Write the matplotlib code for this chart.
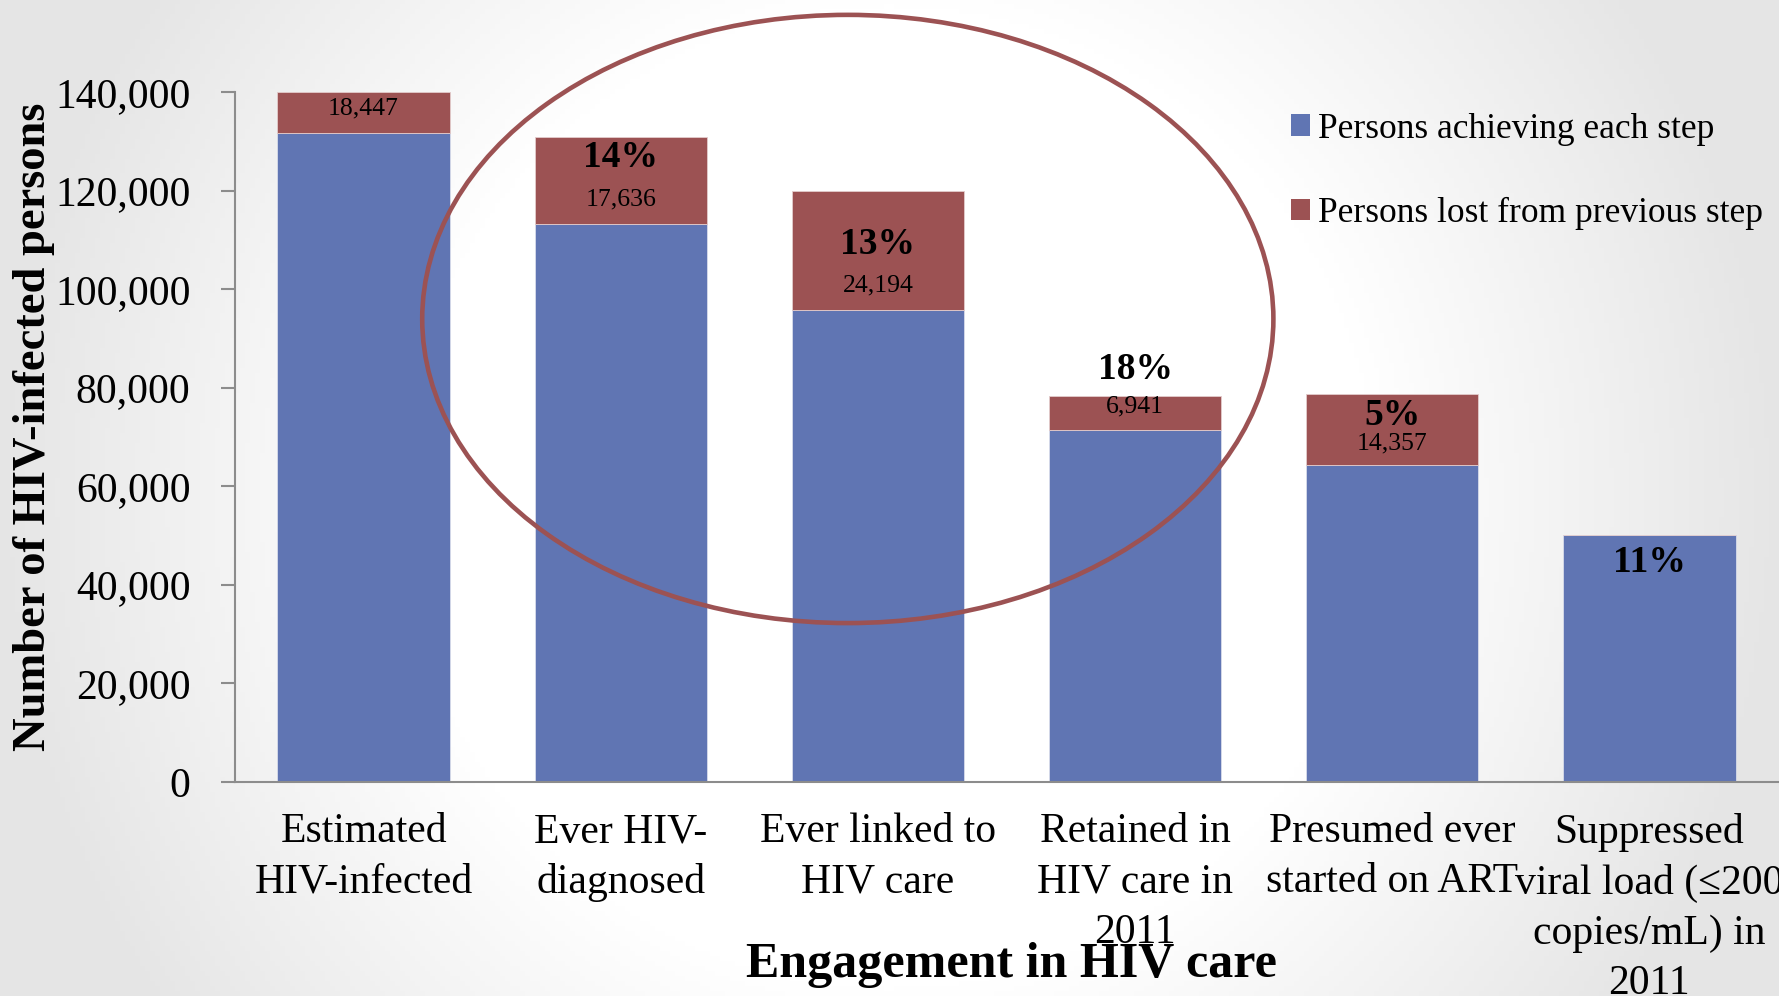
import numpy as np
import matplotlib.pyplot as plt
from matplotlib.patches import Ellipse, Patch
from matplotlib.ticker import FuncFormatter

# data
steps = ['Estimated\nHIV-infected', 'Ever HIV-\ndiagnosed', 'Ever linked to\nHIV care',
         'Retained in\nHIV care in\n2011', 'Presumed ever\nstarted on ART',
         'Suppressed\nviral load (\u2264200\ncopies/mL) in\n2011']
achieved = [131700, 113300, 95800, 71400, 64400, 50200]
lost = [8300, 17636, 24194, 6941, 14357, 0]
lost_text = ['18,447', '17,636', '24,194', '6,941', '14,357', '']
pct_text = ['', '14%', '13%', '18%', '5%', '11%']

# label placement (y in data units)
lost_y = [136700, 118300, 100800, 76200, 68600, None]
pct_y = [None, 126800, 109000, 83700, 74300, 44600]

blue = '#6075b3'
red = '#9c5253'
axis_gray = '#8c8c8c'


def main():
    plt.rcParams['font.family'] = ['Liberation Serif', 'DejaVu Serif']
    fig = plt.figure(figsize=(17.79, 9.96), dpi=100)

    # slide background: white centre fading to light gray at the edges
    bg = fig.add_axes([0, 0, 1, 1], zorder=-10)
    yy, xx = np.mgrid[0:1:200j, 0:1:356j]
    r = np.hypot((xx - 0.5) / 0.5, (yy - 0.5) / 0.9)
    v = 1 - 0.10 * np.clip((r - 0.55) / 0.45, 0, 1)
    bg.imshow(np.dstack([v, v, v]), aspect='auto', extent=[0, 1, 0, 1])
    bg.axis('off')

    ax = fig.add_axes([0.1321, 0.2149, 0.8673, 0.6927])
    ax.set_facecolor('none')
    x = np.arange(len(steps))
    ax.bar(x, achieved, width=0.67, color=blue, edgecolor='#d8dcea', lw=0.6,
           label='Persons achieving each step')
    ax.bar(x, lost, bottom=achieved, width=0.67, color=red, edgecolor='#e3cccc', lw=0.6,
           label='Persons lost from previous step')

    for i in range(len(steps)):
        if lost_text[i]:
            ax.text(x[i], lost_y[i], lost_text[i], ha='center', va='center', fontsize=18.5)
        if pct_text[i]:
            ax.text(x[i], pct_y[i], pct_text[i], ha='center', va='center',
                    fontsize=27, fontweight='bold')

    ell = Ellipse((1.883, 93950), 3.31, 123420, fill=False, ec=red, lw=3.3, clip_on=False)
    ax.add_patch(ell)

    ax.set_xlim(-0.5, 5.5)
    ax.set_ylim(0, 140000)
    ax.set_yticks(range(0, 140001, 20000))
    ax.yaxis.set_major_formatter(FuncFormatter(lambda v, p: f'{int(v):,}'))
    ax.set_xticks(x)
    ax.set_xticklabels(steps, fontsize=30, linespacing=1.40)
    ax.tick_params(axis='y', labelsize=30, length=10, width=1.5, color=axis_gray, pad=22)
    ax.tick_params(axis='x', length=0, pad=22)
    for s in ['top', 'right']:
        ax.spines[s].set_visible(False)
    for s in ['left', 'bottom']:
        ax.spines[s].set_color(axis_gray)
        ax.spines[s].set_linewidth(1.5)

    ax.set_ylabel('Number of HIV-infected persons', fontsize=33.5, fontweight='bold')
    ax.yaxis.set_label_coords(-0.1167, 0.515)
    fig.text(1011 / 1779, 1 - 965 / 996, 'Engagement in HIV care', ha='center', va='center',
             fontsize=36, fontweight='bold')

    handles = [Patch(fc=blue), Patch(fc=red)]
    ax.legend(handles, ['Persons achieving each step', 'Persons lost from previous step'],
              loc='upper left', bbox_to_anchor=(1291 / 1779, 0.887),
              bbox_transform=fig.transFigure, frameon=False, fontsize=25.5,
              handlelength=0.55, handleheight=0.55, handletextpad=0.22,
              labelspacing=1.46, borderaxespad=0, borderpad=0)

    fig.savefig('out.png', dpi=100)


if __name__ == '__main__':
    main()
